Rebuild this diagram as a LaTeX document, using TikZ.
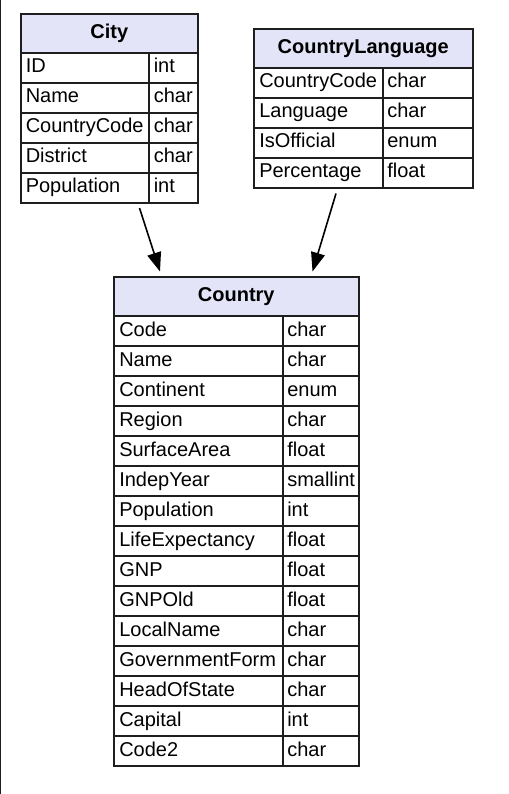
\documentclass[tikz,border=0pt]{standalone}
\usepackage{fontspec}
\setmainfont{Liberation Sans}
\usetikzlibrary{arrows.meta}
\definecolor{hdrcol}{RGB}{228,228,248}
\definecolor{gridcol}{RGB}{30,30,30}
\tikzset{
  cellline/.style={draw=gridcol, line width=1.5pt},
  celltext/.style={anchor=base west, inner sep=0pt, font=\fontsize{15}{17}\selectfont},
  titletext/.style={anchor=base, inner sep=0pt, font=\fontsize{15}{17}\selectfont\bfseries},
  fkarrow/.style={draw=black, line width=1.2pt, -{Triangle[length=14.25pt,width=10.5pt]}},
}
% #1 name, #2 left, #3 top, #4 divider, #5 right, #6 title, #7 rows
\newcommand\dbtable[7]{%
  \fill[hdrcol] (#2,#3) rectangle (#5,#3+39);
  \node[titletext] (#1-title) at ({(#2+#5)/2},#3+24.5) {#6};
  \foreach \fld/\typ [count=\i] in {#7} {
    \pgfmathsetmacro\ytop{#3+39+(\i-1)*30}
    \draw[cellline] (#2,\ytop) rectangle (#4,\ytop+30);
    \draw[cellline] (#4,\ytop) rectangle (#5,\ytop+30);
    \node[celltext] (#1-f\i) at (#2+5,\ytop+20) {\fld};
    \node[celltext] (#1-t\i) at (#4+4.5,\ytop+20) {\typ};
  }
  \draw[cellline] (#2,#3) rectangle (#5,#3+39);
}
\begin{document}
\begin{tikzpicture}[x=0.75pt,y=-0.75pt]
\useasboundingbox (0,0) rectangle (508,794);
\fill[gridcol] (0,0) rectangle (1.5,794);
\dbtable{city}{20.5}{13.5}{149}{198}{City}{ID/int,Name/char,CountryCode/char,District/char,Population/int}
\dbtable{lang}{254}{28.5}{382.5}{472.5}{CountryLanguage}{CountryCode/char,Language/char,IsOfficial/enum,Percentage/float}
\dbtable{country}{114}{277}{282.5}{358.5}{Country}{Code/char,Name/char,Continent/enum,Region/char,SurfaceArea/float,IndepYear/smallint,Population/int,LifeExpectancy/float,GNP/float,GNPOld/float,LocalName/char,GovernmentForm/char,HeadOfState/char,Capital/int,Code2/char}
\coordinate (a1s) at (139.5,208);
\coordinate (a1e) at (160,271.5);
\coordinate (a2s) at (336,193.5);
\coordinate (a2e) at (312.5,271.5);
\draw[fkarrow] (a1s) -- (a1e);
\draw[fkarrow] (a2s) -- (a2e);
\end{tikzpicture}
\end{document}
